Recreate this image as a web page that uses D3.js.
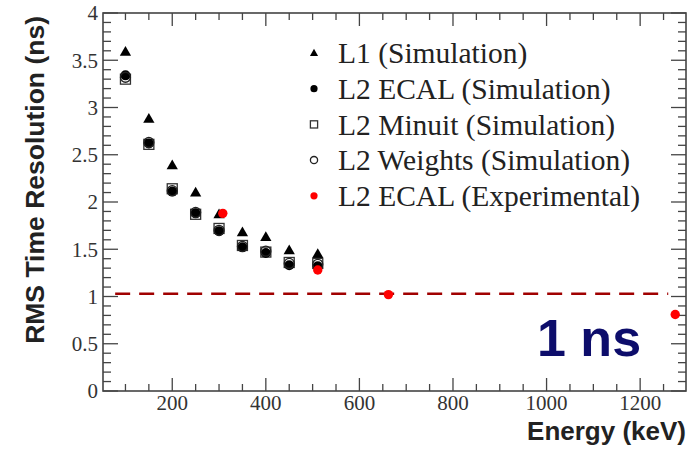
<!DOCTYPE html>
<html>
<head>
<meta charset="UTF-8">
<script src="https://d3js.org/d3.v7.min.js"></script>
<style>
  body { margin: 0; background: #fff; }
  svg text { fill: #222; }
</style>
</head>
<body>
<svg id="chart" width="695" height="451"></svg>
<script>
// energies of the simulated points (keV)
var simEnergy = [100, 150, 200, 250, 300, 350, 400, 450, 511];
var l1Sim      = [3.59, 2.88, 2.39, 2.10, 1.87, 1.68, 1.63, 1.49, 1.45];
var ecalSim    = [3.34, 2.62, 2.11, 1.88, 1.69, 1.52, 1.46, 1.33, 1.32];
var minuitSim  = [3.30, 2.61, 2.14, 1.87, 1.72, 1.54, 1.47, 1.36, 1.35];
var weightsSim = [3.32, 2.63, 2.12, 1.89, 1.70, 1.53, 1.48, 1.35, 1.34];

// experimental points
var expEnergy = [308, 511, 662, 1275];
var ecalExp   = [1.88, 1.28, 1.02, 0.81];

// 1 ns reference line
var refX = [78, 1260];
var refY = 1.03;

var xTicks = [200, 400, 600, 800, 1000, 1200];
var yTicks = [0, 0.5, 1, 1.5, 2, 2.5, 3, 3.5, 4];
var legendLabels = ["L1 (Simulation)", "L2 ECAL (Simulation)", "L2 Minuit (Simulation)",
                    "L2 Weights (Simulation)", "L2 ECAL (Experimental)"];

var svg = d3.select("#chart");
var plotLeft = 103, plotRight = 686, plotTop = 13, plotBottom = 391;

var x = d3.scaleLinear().domain([52, 1298]).range([plotLeft, plotRight]);
var y = d3.scaleLinear().domain([0, 4]).range([plotBottom, plotTop]);

var axisColor = "#444";

// ticks, all pointing inwards (ROOT style)
var g = svg.append("g").attr("stroke", axisColor).attr("stroke-width", 1.3);
d3.range(100, 1300, 50).forEach(function(v){
    var major = v % 200 === 0;
    var len = major ? 13 : 7;
    g.append("line").attr("x1", x(v)).attr("x2", x(v)).attr("y1", plotBottom).attr("y2", plotBottom - len);
    g.append("line").attr("x1", x(v)).attr("x2", x(v)).attr("y1", plotTop).attr("y2", plotTop + len);
});
d3.range(0, 41).forEach(function(i){
    var v = i / 10;
    var major = i % 5 === 0;
    var len = major ? 15 : 8;
    g.append("line").attr("x1", plotLeft).attr("x2", plotLeft + len).attr("y1", y(v)).attr("y2", y(v));
    g.append("line").attr("x1", plotRight).attr("x2", plotRight - len).attr("y1", y(v)).attr("y2", y(v));
});

// frame
svg.append("rect")
    .attr("x", plotLeft).attr("y", plotTop)
    .attr("width", plotRight - plotLeft).attr("height", plotBottom - plotTop)
    .attr("fill", "none").attr("stroke", axisColor).attr("stroke-width", 1.6);

// tick labels
svg.append("g").selectAll("text").data(xTicks).enter().append("text")
    .attr("x", function(d){ return x(d); })
    .attr("y", 410)
    .attr("text-anchor", "middle")
    .style("font-family", "'Liberation Serif', serif")
    .style("font-size", "21px")
    .style("fill", "#333")
    .text(function(d){ return d; });

svg.append("g").selectAll("text").data(yTicks).enter().append("text")
    .attr("x", 98)
    .attr("y", function(d){ return y(d); })
    .attr("dy", "0.35em")
    .attr("text-anchor", "end")
    .style("font-family", "'Liberation Serif', serif")
    .style("font-size", "21px")
    .style("fill", "#333")
    .text(function(d){ return d; });

// axis titles
svg.append("text")
    .attr("x", plotRight).attr("y", 440)
    .attr("text-anchor", "end")
    .style("font-family", "'Liberation Sans', Arial, sans-serif")
    .style("font-weight", "bold")
    .style("font-size", "26px")
    .text("Energy (keV)");

svg.append("text")
    .attr("transform", "translate(44," + (plotTop + 3) + ") rotate(-90)")
    .attr("text-anchor", "end")
    .style("font-family", "'Liberation Sans', Arial, sans-serif")
    .style("font-weight", "bold")
    .style("font-size", "26.5px")
    .text("RMS Time Resolution (ns)");

// dashed 1 ns line
svg.append("line")
    .attr("x1", x(refX[0])).attr("x2", x(refX[1]))
    .attr("y1", y(refY)).attr("y2", y(refY))
    .attr("stroke", "#a00000").attr("stroke-width", 2.5)
    .attr("stroke-dasharray", "15,9");

svg.append("text")
    .attr("x", 537).attr("y", 356)
    .style("font-family", "'Liberation Sans', Arial, sans-serif")
    .style("font-weight", "bold")
    .style("font-size", "52px")
    .style("fill", "#0d0d6b")
    .text("1 ns");

// marker drawing helpers
var tri = d3.symbol().type(d3.symbolTriangle);
function drawMarker(sel, kind, cx, cy, r){
    if (kind === "tri") {
        sel.append("path").attr("d", tri.size(r * r * 2.2)())
            .attr("transform", "translate(" + cx + "," + (cy + r * 0.15) + ")")
            .attr("fill", "#000");
    } else if (kind === "dot") {
        sel.append("circle").attr("cx", cx).attr("cy", cy).attr("r", r).attr("fill", "#000");
    } else if (kind === "square") {
        sel.append("rect").attr("x", cx - r).attr("y", cy - r)
            .attr("width", 2 * r).attr("height", 2 * r)
            .attr("fill", "none").attr("stroke", "#333").attr("stroke-width", 1.3);
    } else if (kind === "ring") {
        sel.append("circle").attr("cx", cx).attr("cy", cy).attr("r", r)
            .attr("fill", "none").attr("stroke", "#222").attr("stroke-width", 1.3);
    } else if (kind === "red") {
        sel.append("circle").attr("cx", cx).attr("cy", cy).attr("r", r).attr("fill", "#ff0000");
    }
}

var pts = svg.append("g");
var series = [
    {kind: "tri", xs: simEnergy, ys: l1Sim},
    {kind: "square", xs: simEnergy, ys: minuitSim},
    {kind: "dot", xs: simEnergy, ys: ecalSim},
    {kind: "ring", xs: simEnergy, ys: weightsSim},
    {kind: "red", xs: expEnergy, ys: ecalExp}
];
series.forEach(function(s){
    s.xs.forEach(function(e, i){
        drawMarker(pts, s.kind, x(e), y(s.ys[i]), s.kind === "red" ? 4.7 : 5);
    });
});

// legend
var legendKinds = ["tri", "dot", "square", "ring", "red"];
var leg = svg.append("g");
legendLabels.forEach(function(label, i){
    var ly = 53 + i * 35.7;
    drawMarker(leg, legendKinds[i], 314, ly, 3.6);
    leg.append("text")
        .attr("x", 338).attr("y", ly).attr("dy", "0.35em")
        .style("font-family", "'Liberation Serif', serif")
        .style("font-size", "29.5px")
        .text(label);
});
</script>
</body>
</html>
